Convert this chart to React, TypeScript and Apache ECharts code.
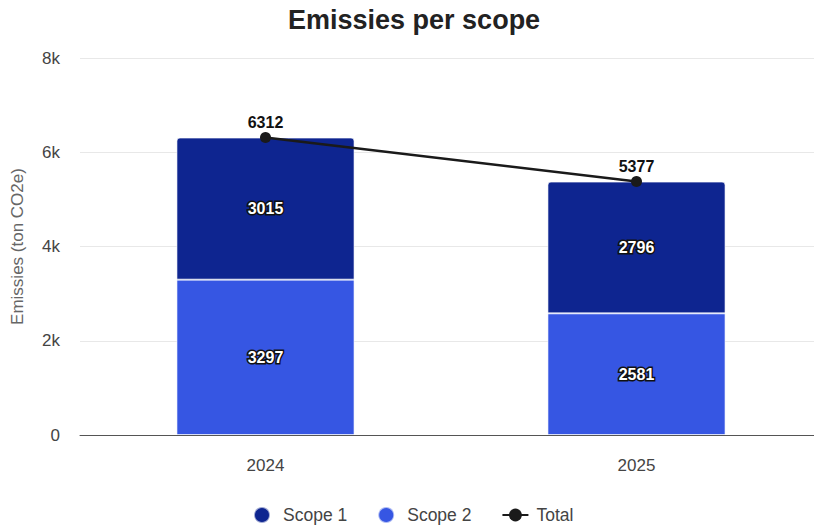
import React, { useEffect, useRef } from "react";
import * as echarts from "echarts";

const categories = ["2024", "2025"];
const scope1 = [3015, 2796];
const scope2 = [3297, 2581];
const total = [6312, 5377];
const yTicks = [0, 2000, 4000, 6000, 8000];

export default function App() {
  const ref = useRef<HTMLDivElement>(null);
  useEffect(() => {
    if (!ref.current) return;
    const chart = echarts.init(ref.current, undefined, { renderer: "svg" });
    const font = "Liberation Sans, Arial, sans-serif";
    const innerLabel = {
      show: true,
      position: "inside",
      color: "#fff",
      fontWeight: "bold",
      fontSize: 16,
      fontFamily: font,
      textBorderColor: "#111",
      textBorderWidth: 3,
    };
    chart.setOption({
      animation: false,
      textStyle: { fontFamily: font },
      title: {
        text: "Emissies per scope",
        left: 283,
        top: 1,
        textStyle: { fontSize: 27, fontWeight: "bold", color: "#222", fontFamily: font },
      },
      legend: {
        bottom: 0,
        left: 248,
        itemGap: 30,
        itemWidth: 26,
        itemHeight: 16,
        textStyle: { fontSize: 17.5, color: "#444", fontFamily: font, padding: [0, 0, 0, 3] },
        data: [
          { name: "Scope 1", icon: "circle" },
          { name: "Scope 2", icon: "circle" },
          { name: "Total" },
        ],
      },
      grid: { left: 80, top: 58, right: -8, bottom: 94, outerBoundsMode: "none" },
      xAxis: {
        type: "category",
        data: categories,
        axisTick: { show: false },
        axisLine: { lineStyle: { color: "#555", width: 1 } },
        axisLabel: { fontSize: 17, color: "#444", margin: 22 },
      },
      yAxis: {
        type: "value",
        min: yTicks[0],
        max: yTicks[yTicks.length - 1],
        interval: 2000,
        name: "Emissies (ton CO2e)",
        nameLocation: "middle",
        nameGap: 54,
        nameTextStyle: { fontSize: 17, color: "#666" },
        axisLabel: {
          fontSize: 17,
          color: "#444",
          margin: 20,
          formatter: (v: number) => (v === 0 ? "0" : v / 1000 + "k"),
        },
        splitLine: { lineStyle: { color: "#e8e8e8" } },
      },
      series: [
        {
          name: "Scope 2",
          type: "bar",
          stack: "s",
          data: scope2,
          barWidth: "48%",
          itemStyle: { color: "#3656e3", borderColor: "rgba(255,255,255,0.6)", borderWidth: 1 },
          label: innerLabel,
        },
        {
          name: "Scope 1",
          type: "bar",
          stack: "s",
          data: scope1,
          barWidth: "48%",
          itemStyle: {
            color: "#0e2590",
            borderColor: "rgba(255,255,255,0.6)",
            borderWidth: 1,
            borderRadius: [3, 3, 0, 0],
          },
          label: innerLabel,
        },
        {
          name: "Total",
          type: "line",
          data: total,
          symbol: "circle",
          symbolSize: 11,
          lineStyle: { color: "#1a1a1a", width: 2.5 },
          itemStyle: { color: "#1a1a1a" },
          label: {
            show: true,
            position: "top",
            distance: 2,
            color: "#111",
            fontWeight: "bold",
            fontSize: 16,
          },
          z: 5,
        },
      ],
    });
    return () => chart.dispose();
  }, []);
  return (
    <div
      ref={ref}
      style={{ position: "absolute", left: 0, top: 0, width: 814, height: 529 }}
    />
  );
}
